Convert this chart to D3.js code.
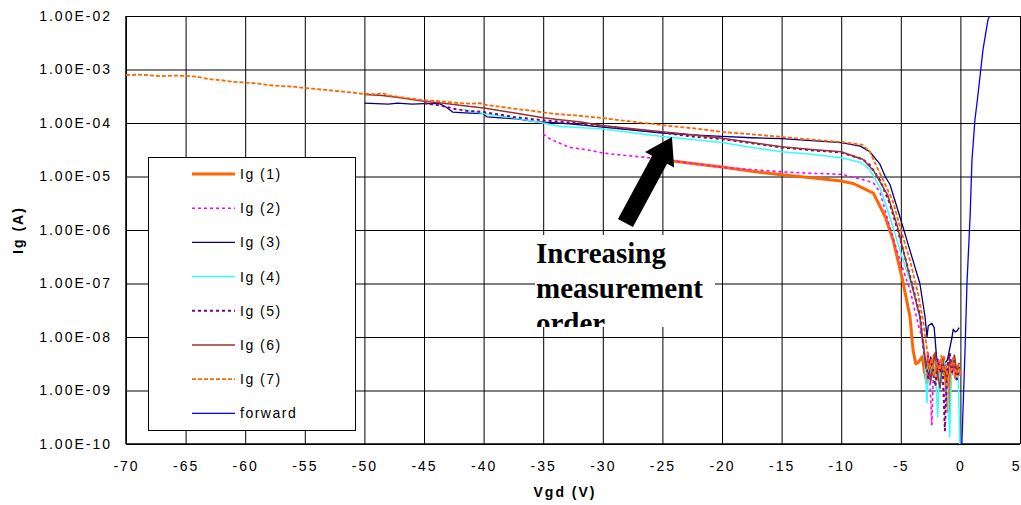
<!DOCTYPE html>
<html><head><meta charset="utf-8">
<script src="https://cdn.jsdelivr.net/npm/d3@7"></script>
<style>
html,body{margin:0;padding:0;background:#fff;}
svg{display:block;font-family:"Liberation Sans",Arial,sans-serif;}
</style></head><body>
<svg id="chart" width="1021" height="505"></svg>
<script>
// ---------- data ----------
const xTicks = [-70,-65,-60,-55,-50,-45,-40,-35,-30,-25,-20,-15,-10,-5,0,5];
const yTicks = [1e-10,1e-9,1e-8,1e-7,1e-6,1e-5,1e-4,1e-3,1e-2];
const yTickLabels = ["1.00E-10","1.00E-09","1.00E-08","1.00E-07","1.00E-06","1.00E-05","1.00E-04","1.00E-03","1.00E-02"];
const seriesNames = ["Ig (1)","Ig (2)","Ig (3)","Ig (4)","Ig (5)","Ig (6)","Ig (7)","forward"];
const xTitle = "Vgd (V)";
const yTitle = "Ig (A)";
const noteLines = ["Increasing","measurement","order"];

const ig1 = [[-25,2.05e-5],[-22.5,1.75e-5],[-20,1.5e-5],[-17.5,1.25e-5],[-15,1.08e-5],[-12.5,9.5e-6],[-10,8.2e-6],[-9,7.4e-6],[-8.4,6.4e-6],[-7.3,4.9e-6],[-6.3,1.75e-6],[-5.65,6.5e-7],[-4.9,1.3e-7],[-4.23,2.4e-8],[-3.97,5.7e-9],[-3.75,3.2e-9],[-3.55,3.3e-9],[-3.2,4.3e-9],[-3.0,2.2e-9],[-2.8,1.4e-9],[-2.6,3.5e-9],[-2.4,2.0e-9],[-2.2,4.6e-9],[-2.0,1.6e-9],[-1.8,3.0e-9],[-1.6,2.1e-9],[-1.4,4.2e-9],[-1.2,1.3e-9],[-1.0,4.0e-10],[-0.8,2.4e-9],[-0.6,3.9e-9],[-0.4,1.7e-9],[-0.2,2.8e-9],[0,1.9e-9]];
const ig2 = [[-35,6.2e-5],[-34.4,5.0e-5],[-33.3,3.9e-5],[-32.75,3.5e-5],[-31.1,3.1e-5],[-30,2.75e-5],[-28.3,2.5e-5],[-26.6,2.3e-5],[-24.4,2.0e-5],[-22.3,1.75e-5],[-20.2,1.5e-5],[-17.5,1.35e-5],[-15,1.22e-5],[-12.5,1.15e-5],[-10,1.1e-5],[-8.4,9.0e-6],[-7.3,7.6e-6],[-6.75,5.1e-6],[-5.9,1.1e-6],[-5.07,2.7e-7],[-4.23,7.6e-8],[-3.56,1.8e-8],[-3.1,7.7e-9],[-2.9,3.0e-9],[-2.7,5.2e-9],[-2.55,1.5e-9],[-2.4,2.3e-10],[-2.25,2.8e-9],[-2.1,4.5e-9],[-1.9,1.9e-9],[-1.7,3.6e-9],[-1.5,2.2e-9],[-1.3,3.8e-10],[-1.1,2.6e-9],[-0.9,4.8e-9],[-0.7,2.0e-9],[-0.5,3.4e-9],[-0.3,1.5e-9],[-0.1,2.5e-9]];
const ig3 = [[-50,2.35e-4],[-49,2.3e-4],[-48,2.25e-4],[-47.2,2.35e-4],[-46,2.25e-4],[-45,2.3e-4],[-43.7,2.3e-4],[-43.1,1.95e-4],[-42.6,1.6e-4],[-41.6,1.55e-4],[-40.05,1.5e-4],[-39.7,1.3e-4],[-38.6,1.25e-4],[-37.2,1.2e-4],[-35.5,1.05e-4],[-33.8,1.0e-4],[-32.75,9.6e-5],[-30,8.4e-5],[-27.5,7.4e-5],[-25,6.5e-5],[-22.5,6.0e-5],[-20,5.6e-5],[-17.5,5.3e-5],[-15,5.1e-5],[-12.5,4.7e-5],[-10,4.3e-5],[-8.4,3.7e-5],[-7.6,2.9e-5],[-6.75,1.7e-5],[-6.3,9.9e-6],[-5.9,7.0e-6],[-5.07,1.75e-6],[-3.98,2.7e-7],[-3.4,1.0e-7],[-2.97,2.4e-8],[-2.8,1.0e-8],[-2.7,1.6e-8],[-2.4,1.8e-8],[-2.2,1.5e-8],[-2.0,4.2e-9],[-1.8,2.8e-9],[-1.55,2.4e-9],[-1.3,3.2e-9],[-1.1,3.7e-9],[-0.9,6.0e-9],[-0.7,1.0e-8],[-0.6,1.4e-8],[-0.45,1.25e-8],[-0.28,1.3e-8],[-0.1,1.5e-8]];
const ig4 = [[-41.7,1.8e-4],[-41,1.65e-4],[-40,1.5e-4],[-39,1.4e-4],[-38,1.3e-4],[-36.5,1.15e-4],[-35,1.0e-4],[-33.6,8.6e-5],[-32.75,8.4e-5],[-31,8.0e-5],[-30,7.7e-5],[-27.5,6.6e-5],[-25,5.6e-5],[-22.5,4.9e-5],[-20,4.3e-5],[-17.5,3.5e-5],[-15,2.9e-5],[-12.5,2.6e-5],[-10,2.25e-5],[-8.4,1.85e-5],[-7.6,1.35e-5],[-6.75,6.2e-6],[-5.9,1.7e-6],[-5.07,4.2e-7],[-4.0,7.6e-8],[-3.3,1.8e-8],[-3.1,6.0e-9],[-2.95,2.5e-9],[-2.8,5.9e-10],[-2.65,3.2e-9],[-2.5,1.6e-9],[-2.3,4.1e-9],[-2.1,2.2e-9],[-1.9,3.2e-10],[-1.75,2.9e-9],[-1.55,1.4e-9],[-1.35,3.6e-9],[-1.15,2.3e-9],[-0.9,1.35e-10],[-0.75,2.7e-9],[-0.55,4.4e-9],[-0.35,1.8e-9],[-0.2,3.1e-9],[-0.05,1.0e-10]];
const ig5 = [[-45,2.35e-4],[-43.5,2.1e-4],[-42.5,1.85e-4],[-41.5,1.7e-4],[-40.05,1.6e-4],[-39,1.48e-4],[-37.5,1.3e-4],[-35,1.12e-4],[-32.75,1.02e-4],[-30,8.7e-5],[-27.5,7.6e-5],[-25,6.6e-5],[-22.5,5.6e-5],[-20,5.0e-5],[-17.5,4.2e-5],[-15,3.5e-5],[-12.5,3.1e-5],[-10,2.8e-5],[-8.2,2.1e-5],[-7.6,1.65e-5],[-6.75,8.6e-6],[-5.9,3.0e-6],[-5.07,7.0e-7],[-4.23,1.4e-7],[-3.4,2.6e-8],[-3.1,6.0e-9],[-2.9,3.4e-9],[-2.7,1.7e-9],[-2.5,4.2e-9],[-2.3,2.4e-9],[-2.1,1.2e-9],[-1.9,3.8e-9],[-1.7,2.1e-9],[-1.5,3.0e-9],[-1.3,1.8e-10],[-1.1,2.6e-9],[-0.9,5.0e-9],[-0.7,2.2e-9],[-0.5,3.6e-9],[-0.3,1.6e-9],[-0.1,2.9e-9]];
const ig6 = [[-50,3.4e-4],[-48.5,3.25e-4],[-47,2.95e-4],[-45,2.55e-4],[-43,2.3e-4],[-42,2.15e-4],[-40,1.9e-4],[-37.5,1.55e-4],[-35,1.25e-4],[-33.6,1.15e-4],[-32,1.05e-4],[-30,9.0e-5],[-27.5,7.8e-5],[-25,6.9e-5],[-22.5,6.0e-5],[-20,5.2e-5],[-17.5,4.3e-5],[-15,3.6e-5],[-12.5,3.2e-5],[-10,2.9e-5],[-8.2,2.1e-5],[-7.3,1.3e-5],[-6.1,4.5e-6],[-5.3,1.2e-6],[-4.23,1.3e-7],[-3.4,2.4e-8],[-3.1,7.0e-9],[-2.9,2.6e-9],[-2.7,4.5e-9],[-2.5,1.4e-9],[-2.3,3.3e-9],[-2.1,5.2e-9],[-1.9,2.0e-9],[-1.7,1.1e-9],[-1.5,3.9e-9],[-1.3,2.3e-9],[-1.1,1.5e-9],[-0.9,3.7e-9],[-0.7,2.8e-9],[-0.5,4.6e-9],[-0.3,2.2e-9],[-0.1,3.3e-9]];
const ig7 = [[-70,7.9e-4],[-69,8.0e-4],[-68,7.8e-4],[-67,7.5e-4],[-66,7.7e-4],[-65,7.6e-4],[-64,7.3e-4],[-63,6.6e-4],[-62,6.3e-4],[-61,5.9e-4],[-60,5.7e-4],[-59,5.5e-4],[-58,5.1e-4],[-57,4.9e-4],[-56,4.8e-4],[-55,4.5e-4],[-54,4.3e-4],[-53,4.1e-4],[-52,3.9e-4],[-51,3.7e-4],[-50,3.5e-4],[-49,3.45e-4],[-48.5,3.6e-4],[-48,3.3e-4],[-47,3.05e-4],[-46,2.85e-4],[-45,2.65e-4],[-44,2.6e-4],[-43,2.45e-4],[-42,2.35e-4],[-41,2.3e-4],[-40.3,2.35e-4],[-40,2.2e-4],[-38.5,2.0e-4],[-37.5,1.85e-4],[-36,1.7e-4],[-35,1.58e-4],[-33.6,1.45e-4],[-32.5,1.4e-4],[-31,1.3e-4],[-30,1.24e-4],[-28.5,1.12e-4],[-27.5,1.06e-4],[-26,9.7e-5],[-25,9.1e-5],[-23.5,8.4e-5],[-22,7.8e-5],[-20,6.8e-5],[-18.5,6.4e-5],[-17,6.0e-5],[-15,5.5e-5],[-13.5,5.1e-5],[-12,4.8e-5],[-10,4.4e-5],[-9,4.1e-5],[-8.2,3.9e-5],[-7.6,2.9e-5],[-7.0,1.5e-5],[-6.2,6.3e-6],[-5.65,3.4e-6],[-5.07,1.15e-6],[-4.23,2.7e-7],[-3.56,6.6e-8],[-3.1,1.8e-8],[-2.8,5.7e-9],[-2.6,2.5e-9],[-2.4,4.0e-9],[-2.2,1.8e-9],[-2.0,3.5e-9],[-1.8,2.2e-9],[-1.6,4.5e-9],[-1.4,2.0e-9],[-1.2,3.0e-9],[-1.0,1.2e-9],[-0.8,2.5e-9],[-0.6,4.0e-9],[-0.4,1.8e-9],[-0.2,3.0e-9],[0,2.1e-9]];
const fwd = [[0.12,1.0e-10],[0.39,5.8e-9],[0.55,1.0e-7],[0.81,1.7e-6],[0.97,2.0e-5],[1.22,1.15e-4],[1.47,3.3e-4],[1.89,2.3e-3],[2.31,8.5e-3],[2.5,1.05e-2]];
const arrowTip = [-24.2, 5.5e-5];
const arrowTail = [-28.1, 1.35e-6];

// ---------- styles ----------
const styles = [
  {color:"#FF6600", width:3,   dash:null},
  {color:"#FF00FF", width:1.6, dash:"3,3"},
  {color:"#000080", width:1.3, dash:null},
  {color:"#33FFFF", width:1.5, dash:null},
  {color:"#800080", width:2,   dash:"3,3"},
  {color:"#993333", width:1.5, dash:null},
  {color:"#FF6600", width:1.8, dash:"4,2"},
  {color:"#0000FF", width:1.3, dash:null}
];
const allSeries = [ig1, ig2, ig3, ig4, ig5, ig6, ig7, fwd];

const svg = d3.select("#chart");
const L = 126, R = 1020, T = 16, B = 444;
const x = d3.scaleLinear().domain([-70, 5]).range([L, R]);
const y = d3.scaleLog().domain([1e-10, 1e-2]).range([B, T]);
const FONT = "'Liberation Sans', Arial, sans-serif";

// grid + x axis
const gx = svg.append("g").attr("transform", `translate(0,${B})`)
  .call(d3.axisBottom(x).tickValues(xTicks).tickSize(-(B - T)).tickPadding(17).tickFormat(d => String(d)));
gx.select(".domain").remove();
gx.attr("font-family", FONT).attr("font-size", 14);
gx.selectAll("line").attr("stroke", "#000");
gx.selectAll("text").attr("fill", "#000").attr("letter-spacing", "2px");
// last label sits at the right edge: keep it inside the picture
gx.selectAll("text").filter(d => d === xTicks[xTicks.length - 1])
  .attr("letter-spacing", "0px").attr("text-anchor", "end").attr("dx", "-1");

const gy = svg.append("g").attr("transform", `translate(${L},0)`)
  .call(d3.axisLeft(y).tickValues(yTicks).tickSize(-(R - L)).tickPadding(14).tickFormat((d, i) => yTickLabels[i]));
gy.select(".domain").remove();
gy.attr("font-family", FONT).attr("font-size", 14);
gy.selectAll("line").attr("stroke", "#000");
gy.selectAll("text").attr("fill", "#000").attr("letter-spacing", "2px");

// axis lines
svg.append("line").attr("x1", L).attr("x2", L).attr("y1", T).attr("y2", B).attr("stroke", "#000").attr("stroke-width", 1.5);
svg.append("line").attr("x1", L).attr("x2", R).attr("y1", B).attr("y2", B).attr("stroke", "#000").attr("stroke-width", 1.5);

// annotation box (hides grid)
const noteBox = {x0: 535, y0: 235, x1: 715, y1: 327};
svg.append("rect").attr("x", noteBox.x0).attr("y", noteBox.y0)
  .attr("width", noteBox.x1 - noteBox.x0).attr("height", noteBox.y1 - noteBox.y0).attr("fill", "#fff");
svg.append("clipPath").attr("id", "noteClip").append("rect")
  .attr("x", noteBox.x0).attr("y", noteBox.y0).attr("width", noteBox.x1 - noteBox.x0).attr("height", noteBox.y1 - noteBox.y0);
const note = svg.append("g").attr("clip-path", "url(#noteClip)");
noteLines.forEach((t, i) => {
  note.append("text").attr("x", 536).attr("y", 263 + i * 35)
    .attr("font-family", "'Liberation Serif','Times New Roman',serif").attr("font-weight", "bold")
    .attr("font-size", 29).attr("fill", "#000").text(t);
});

// data lines
svg.append("clipPath").attr("id", "plotClip").append("rect")
  .attr("x", L).attr("y", T).attr("width", R - L).attr("height", B - T);
const line = d3.line().x(d => x(d[0])).y(d => y(Math.max(d[1], 1e-10)));
const gl = svg.append("g").attr("clip-path", "url(#plotClip)");
allSeries.forEach((s, i) => {
  const st = styles[i];
  gl.append("path").datum(s).attr("d", line).attr("fill", "none")
    .attr("stroke", st.color).attr("stroke-width", st.width)
    .attr("stroke-dasharray", st.dash).attr("stroke-linejoin", "round");
});

// arrow
(function () {
  const tx = x(arrowTip[0]), ty = y(arrowTip[1]);
  const bx = x(arrowTail[0]), by = y(arrowTail[1]);
  const dx = tx - bx, dy = ty - by, len = Math.hypot(dx, dy);
  const ux = dx / len, uy = dy / len, px = -uy, py = ux;
  const headLen = 26, headW = 16.5, shaftW = 8.5;
  const hx = tx - ux * headLen, hy = ty - uy * headLen;
  const pts = [
    [tx, ty],
    [hx + px * headW, hy + py * headW],
    [hx + px * shaftW, hy + py * shaftW],
    [bx + px * shaftW, by + py * shaftW],
    [bx - px * shaftW, by - py * shaftW],
    [hx - px * shaftW, hy - py * shaftW],
    [hx - px * headW, hy - py * headW]
  ];
  svg.append("polygon").attr("points", pts.map(p => p.join(",")).join(" ")).attr("fill", "#000");
})();

// legend
const lg = svg.append("g");
lg.append("rect").attr("x", 148.5).attr("y", 157.5).attr("width", 207).attr("height", 273)
  .attr("fill", "#fff").attr("stroke", "#000").attr("stroke-width", 1);
seriesNames.forEach((name, i) => {
  const cy = 174 + i * 34.2;
  const st = styles[i];
  lg.append("line").attr("x1", 192).attr("x2", 235).attr("y1", cy).attr("y2", cy)
    .attr("stroke", st.color).attr("stroke-width", st.width)
    .attr("stroke-dasharray", st.dash);
  lg.append("text").attr("x", 240).attr("y", cy + 5).attr("font-family", FONT).attr("font-size", 14)
    .attr("letter-spacing", "1.5px").attr("fill", "#000").text(name);
});

// axis titles
svg.append("text").attr("x", (L + R) / 2 - 8).attr("y", 497).attr("text-anchor", "middle")
  .attr("font-family", FONT).attr("font-size", 14).attr("font-weight", "bold").attr("letter-spacing", "2px").text(xTitle);
svg.append("text").attr("transform", "translate(23,230) rotate(-90)").attr("text-anchor", "middle")
  .attr("font-family", FONT).attr("font-size", 14).attr("font-weight", "bold").attr("letter-spacing", "2px").text(yTitle);
</script>
</body></html>
